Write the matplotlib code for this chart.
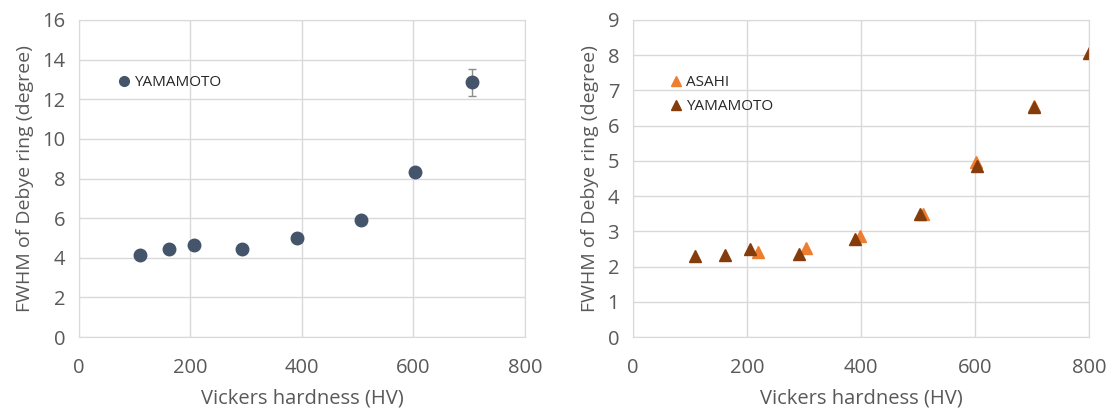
import numpy as np
import matplotlib.pyplot as plt
from matplotlib.lines import Line2D

plt.rcParams["font.family"] = ["Open Sans", "DejaVu Sans"]

# left panel: YAMAMOTO (circles)
hv_left = [109, 162, 207, 293, 391, 505, 603, 705]
fwhm_left = [4.13, 4.42, 4.62, 4.45, 5.0, 5.9, 8.35, 12.85]
err_left = [0, 0, 0, 0, 0, 0, 0, 0.68]

# right panel: ASAHI and YAMAMOTO (triangles)
hv_asahi = [220, 304, 399, 509, 601, 704]
fwhm_asahi = [2.41, 2.52, 2.87, 3.49, 4.97, 6.55]
hv_yama = [109, 161, 206, 292, 389, 503, 603, 703, 800]
fwhm_yama = [2.31, 2.33, 2.51, 2.37, 2.78, 3.49, 4.85, 6.53, 8.05]

grid_c = "#D9D9D9"
text_c = "#595959"

fig = plt.figure(figsize=(11.09, 4.08), dpi=100)
ax1 = fig.add_axes([0.0712, 0.174, 0.4022, 0.777])
ax2 = fig.add_axes([0.5708, 0.174, 0.4112, 0.777])

for ax in (ax1, ax2):
    ax.set_xlim(0, 800)
    ax.set_xticks([0, 200, 400, 600, 800])
    ax.grid(True, color=grid_c, linewidth=1)
    ax.set_axisbelow(True)
    for s in ax.spines.values():
        s.set_color(grid_c)
    ax.tick_params(length=0, labelsize=14.5, colors=text_c, pad=10)
    ax.tick_params(axis="x", pad=15)
    ax.set_xlabel("Vickers hardness (HV)", fontsize=14.5, color=text_c, labelpad=8)
    ax.set_ylabel("FWHM of Debye ring (degree)", fontsize=14, color=text_c, labelpad=6)

ax1.set_ylim(0, 16)
ax1.set_yticks(range(0, 17, 2))
ax1.errorbar(hv_left, fwhm_left, yerr=err_left, fmt="o", color="#44546A",
             markersize=9, ecolor="#8C8C8C", elinewidth=1, capsize=3)
h1 = Line2D([], [], marker="o", linestyle="", color="#44546A", markersize=7)
ax1.legend([h1], ["YAMAMOTO"], loc="upper left", bbox_to_anchor=(0.05, 0.87),
           frameon=False, fontsize=11, handletextpad=0.05, handlelength=1.2,
           labelcolor="#262626")

ax2.set_ylim(0, 9)
ax2.set_yticks(range(0, 10))
ax2.plot(hv_asahi, fwhm_asahi, "^", color="#ED7D31", markersize=9, label="ASAHI")
ax2.plot(hv_yama, fwhm_yama, "^", color="#843C0C", markersize=9, label="YAMAMOTO")
ax2.legend(loc="upper left", bbox_to_anchor=(0.045, 0.87), frameon=False,
           fontsize=11, handletextpad=0.05, handlelength=1.2, labelspacing=0.6,
           markerscale=0.8, labelcolor="#262626")

fig.savefig("out.png", dpi=100)
